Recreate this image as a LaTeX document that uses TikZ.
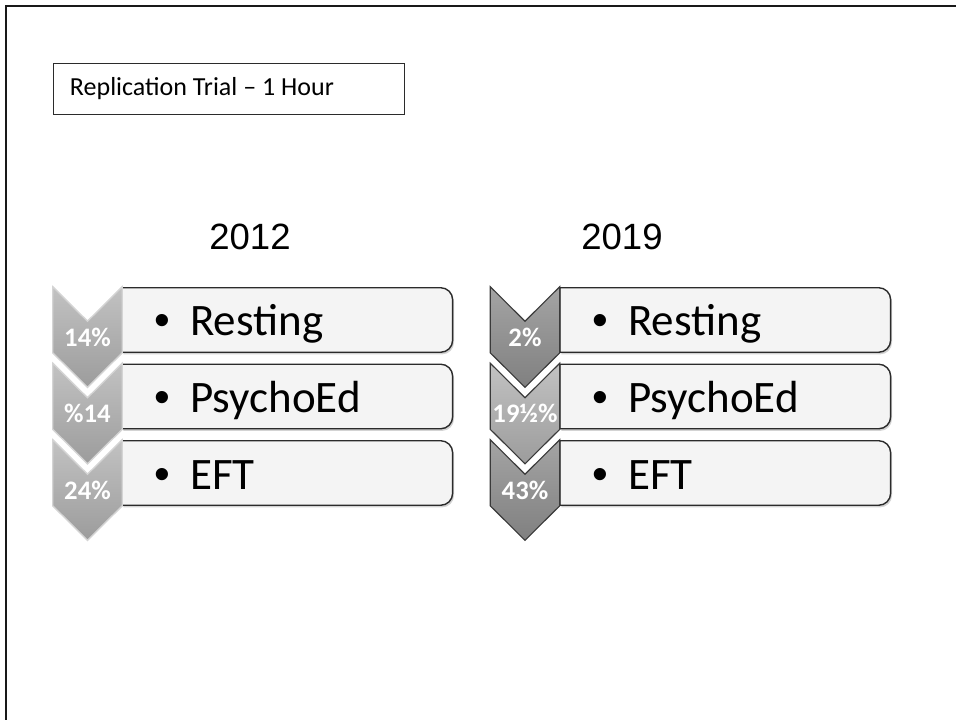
\documentclass[tikz,border=0pt]{standalone}
\usepackage{fontspec}
\setmainfont{Carlito}
\newfontfamily\yearfont{Liberation Sans}
\usetikzlibrary{backgrounds, shadows, calc}

\definecolor{boxfill}{HTML}{F4F4F4}
\definecolor{boxline}{HTML}{2B2B2B}
\definecolor{lighttop}{HTML}{C2C2C2}
\definecolor{lightbottom}{HTML}{9C9C9C}
\definecolor{lightrim}{HTML}{D4D4D4}
\definecolor{darktop}{HTML}{A4A4A4}
\definecolor{darkbottom}{HTML}{808080}
\definecolor{darkrim}{HTML}{3A3A3A}

\tikzstyle{chevron} = [
    rectangle,
    minimum width = 1.725cm,
    minimum height = 2.5cm,
    inner sep = 0pt,
    text = white,
    font = \bfseries\fontsize{19}{19}\selectfont,
]
\tikzstyle{lightchevron} = [top color = lighttop, bottom color = lightbottom, draw = lightrim, line width = 1pt]
\tikzstyle{darkchevron} = [top color = darktop, bottom color = darkbottom, draw = darkrim, line width = 0.8pt]
\tikzstyle{midchevron} = [top color = lighttop, bottom color = lightbottom, draw = darkrim, line width = 0.8pt]
\tikzstyle{itembox} = [
    rectangle,
    anchor = west,
    minimum width = 8.25cm,
    minimum height = 1.6cm,
    text width = 6.65cm,
    inner xsep = 0.8cm,
    inner ysep = 0pt,
    text height = 0.8cm,
    text depth = 0pt,
    align = left,
    font = \fontsize{32}{32}\selectfont,
]
\tikzstyle{itemshape} = [
    fill = boxfill,
    draw = boxline,
    line width = 1pt,
    drop shadow = {shadow xshift = 1pt, shadow yshift = -1.5pt, opacity = 0.35},
]
\tikzstyle{yearlabel} = [font = \yearfont\fontsize{26}{26}\selectfont]
\tikzstyle{titlebox} = [
    rectangle,
    draw = boxline,
    line width = 0.7pt,
    minimum width = 8.75cm,
    minimum height = 1.25cm,
    inner xsep = 0.4cm,
    font = \fontsize{18.5}{18.5}\selectfont,
]
% box with square left corners and round right corners
\newcommand{\boxoutline}[1]{%
    \path[itemshape] (#1.north west) -- ([xshift=-0.3cm]#1.north east) arc[start angle=90, end angle=0, radius=0.3cm]
        -- ([yshift=0.3cm]#1.south east) arc[start angle=0, end angle=-90, radius=0.3cm] -- (#1.south west) -- cycle;}
% downward chevron round a label node
\newcommand{\chevronoutline}[2]{%
    \path[#1] (#2.north west) -- ($(#2.north)+(0,-0.8625cm)$) -- (#2.north east) -- ($(#2.south east)+(0,0.8625cm)$)
        -- (#2.south) -- ($(#2.south west)+(0,0.8625cm)$) -- cycle;}
\newcommand{\itemtext}[1]{\makebox[0.9cm][l]{\yearfont\textbullet}#1}

\begin{document}
\begin{tikzpicture}[x = 0.025cm, y = -0.025cm]
    \useasboundingbox (0,0) rectangle (956,720);
    \draw[line width = 1.5pt, black!90] (956,6) -- (6,6) -- (6,720);

    \node (title) [titlebox] at (229,89) {\makebox[7.95cm][l]{Replication Trial – 1 Hour}};

    \node (y2012) [yearlabel] at (250,237) {2012};
    \node (y2019) [yearlabel] at (622,237) {2019};

    % 2012
    \node (rest12) [itembox] at (122,320) {\itemtext{Resting}};
    \node (psy12) [itembox] at (122,396.5) {\itemtext{PsychoEd}};
    \node (eft12) [itembox] at (122,473) {\itemtext{EFT}};
    \node (c-rest12) [chevron] at (87.5,337) {14\%};
    \node (c-psy12) [chevron] at (87.5,413.5) {\%14};
    \node (c-eft12) [chevron] at (87.5,490) {24\%};

    % 2019
    \node (rest19) [itembox] at (560,320) {\itemtext{Resting}};
    \node (psy19) [itembox] at (560,396.5) {\itemtext{PsychoEd}};
    \node (eft19) [itembox] at (560,473) {\itemtext{EFT}};
    \node (c-rest19) [chevron] at (525,337) {2\%};
    \node (c-psy19) [chevron] at (525,413.5) {19½\%};
    \node (c-eft19) [chevron] at (525,490) {43\%};

    \begin{scope}[on background layer]
        \boxoutline{rest12}
        \boxoutline{psy12}
        \boxoutline{eft12}
        \boxoutline{rest19}
        \boxoutline{psy19}
        \boxoutline{eft19}
        \chevronoutline{lightchevron}{c-rest12}
        \chevronoutline{lightchevron}{c-psy12}
        \chevronoutline{lightchevron}{c-eft12}
        \chevronoutline{darkchevron}{c-rest19}
        \chevronoutline{midchevron}{c-psy19}
        \chevronoutline{darkchevron}{c-eft19}
    \end{scope}
\end{tikzpicture}
\end{document}
